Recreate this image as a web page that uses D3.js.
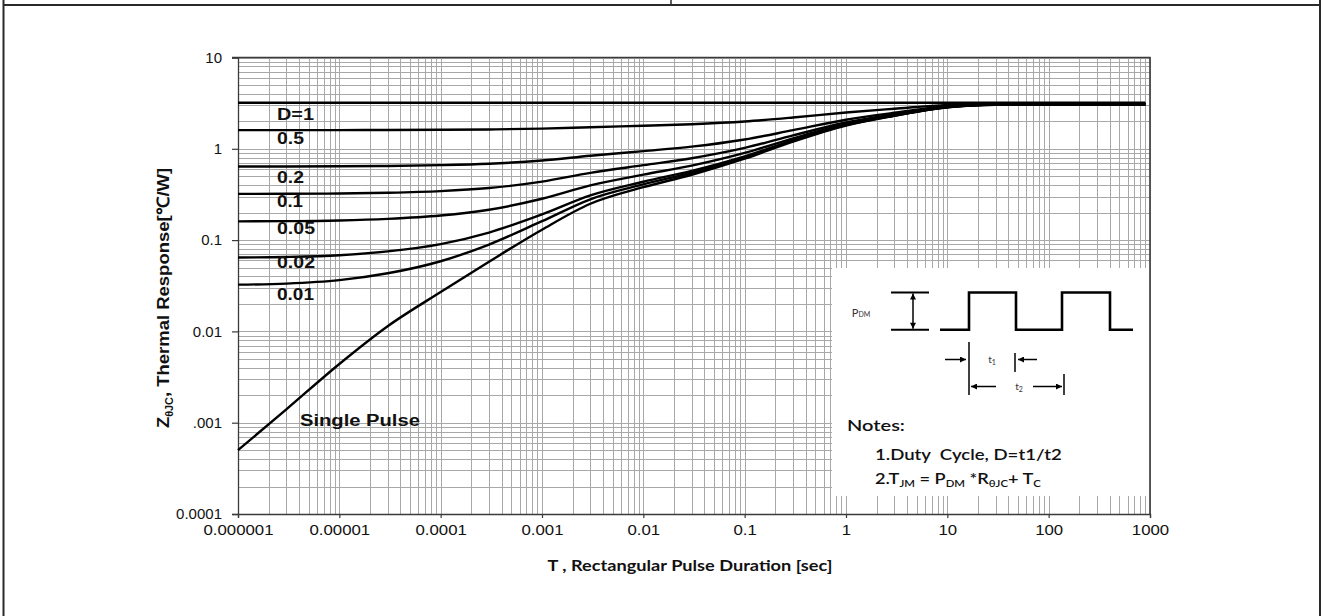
<!DOCTYPE html>
<html>
<head>
<meta charset="utf-8">
<script src="https://cdn.jsdelivr.net/npm/d3@7"></script>
<style>
  html, body { margin: 0; padding: 0; background: #fff; }
  svg { display: block; }
</style>
</head>
<body>
<svg id="chart" width="1323" height="616"></svg>
<script>
// Pulse durations (s) at which every curve is sampled
const pulseTimes = [1e-6, 3e-6, 1e-5, 3e-5, 1e-4, 3e-4, 1e-3, 3e-3, 1e-2, 3e-2, 0.1, 0.3, 1, 3, 10, 30, 100, 900];

// Transient thermal impedance Z(θJC) in ℃/W for each duty cycle
const zD100 = [3.2, 3.2, 3.2, 3.2, 3.2, 3.2, 3.2, 3.2, 3.2, 3.2, 3.2, 3.2, 3.2, 3.2, 3.2, 3.2, 3.2, 3.2];
const zD050 = [1.6, 1.6, 1.602, 1.606, 1.614, 1.629, 1.665, 1.725, 1.79, 1.86, 1.99, 2.2, 2.5, 2.75, 3.03, 3.12, 3.13, 3.13];
const zD020 = [0.64, 0.641, 0.6435, 0.649, 0.662, 0.686, 0.744, 0.84, 0.944, 1.056, 1.264, 1.6, 2.08, 2.48, 2.92, 3.07, 3.09, 3.09];
const zD010 = [0.3205, 0.3213, 0.324, 0.33, 0.344, 0.372, 0.437, 0.545, 0.662, 0.788, 1.022, 1.4, 1.94, 2.39, 2.885, 3.056, 3.07, 3.07];
const zD005 = [0.1605, 0.1613, 0.1642, 0.1708, 0.1857, 0.2151, 0.2835, 0.3975, 0.521, 0.654, 0.901, 1.3, 1.87, 2.345, 2.868, 3.048, 3.07, 3.07];
const zD002 = [0.0645, 0.0654, 0.0683, 0.0752, 0.0905, 0.121, 0.191, 0.309, 0.436, 0.574, 0.828, 1.24, 1.828, 2.318, 2.857, 3.043, 3.06, 3.06];
const zD001 = [0.0325, 0.0334, 0.0364, 0.0433, 0.0587, 0.0894, 0.161, 0.28, 0.408, 0.547, 0.804, 1.22, 1.814, 2.309, 2.854, 3.042, 3.06, 3.06];
const zSingle = [0.0005, 0.0014, 0.0044, 0.0114, 0.027, 0.058, 0.13, 0.25, 0.38, 0.52, 0.78, 1.2, 1.8, 2.3, 2.85, 3.04, 3.06, 3.06];

const dutyLabels = ["D=1", "0.5", "0.2", "0.1", "0.05", "0.02", "0.01"];
const singleLabel = "Single Pulse";

const xTickValues = [1e-6, 1e-5, 1e-4, 1e-3, 1e-2, 0.1, 1, 10, 100, 1000];
const xTickLabels = ["0.000001", "0.00001", "0.0001", "0.001", "0.01", "0.1", "1", "10", "100", "1000"];
const yTickValues = [10, 1, 0.1, 0.01, 0.001, 0.0001];
const yTickLabels = ["10", "1", "0.1", "0.01", ".001", "0.0001"];

// ---------------------------------------------------------------------------
const svg = d3.select("#chart");
const ARIAL = "'Liberation Sans', Arial, sans-serif";
const CALIBRI = "Lato, 'Open Sans', sans-serif";

const x = d3.scaleLog().domain([1e-6, 1000]).range([238, 1150]);
const y = d3.scaleLog().domain([1e-4, 10]).range([514, 57.5]);
const [X0, X1] = x.range();
const [Y1, Y0] = y.range();

// Outer sheet frame
const frame = svg.append("g").attr("stroke", "#2a2a2a").attr("fill", "none");
frame.append("line").attr("x1", 3.5).attr("x2", 3.5).attr("y1", 0).attr("y2", 616).attr("stroke-width", 2);
frame.append("line").attr("x1", 1320).attr("x2", 1320).attr("y1", 0).attr("y2", 616).attr("stroke-width", 2);
frame.append("line").attr("x1", 3).attr("x2", 1321).attr("y1", 5).attr("y2", 5).attr("stroke-width", 2);
frame.append("line").attr("x1", 671).attr("x2", 671).attr("y1", 0).attr("y2", 5).attr("stroke-width", 1.5);

// Log grid: every 1..9 step of each decade
const gridX = [];
for (let e = -6; e < 3; e++) for (let k = 1; k < 10; k++) gridX.push(k * Math.pow(10, e));
gridX.push(1000);
const gridY = [];
for (let e = -4; e < 1; e++) for (let k = 1; k < 10; k++) gridY.push(k * Math.pow(10, e));
gridY.push(10);

const grid = svg.append("g").attr("stroke", "#a8a8a8").attr("stroke-width", 1).attr("shape-rendering", "crispEdges");
grid.selectAll(".gx").data(gridX).join("line")
  .attr("x1", d => Math.round(x(d)) + 0.5).attr("x2", d => Math.round(x(d)) + 0.5)
  .attr("y1", Y0).attr("y2", Y1);
grid.selectAll(".gy").data(gridY).join("line")
  .attr("y1", d => Math.round(y(d)) + 0.5).attr("y2", d => Math.round(y(d)) + 0.5)
  .attr("x1", X0).attr("x2", X1);

// Notes panel background
const bx = 832, by = 268;
svg.append("rect").attr("x", bx).attr("y", by).attr("width", X1 - bx).attr("height", 228).attr("fill", "#fff");

// Axes
const yAxis = d3.axisLeft(y).tickValues(yTickValues).tickFormat((d, i) => yTickLabels[i]).tickSize(6).tickPadding(10);
const xAxis = d3.axisBottom(x).tickValues(xTickValues).tickFormat((d, i) => xTickLabels[i]).tickSize(4).tickPadding(6);

const gy = svg.append("g").attr("transform", `translate(${X0},0)`).call(yAxis);
const gx = svg.append("g").attr("transform", `translate(0,${Y1})`).call(xAxis);
[gx, gy].forEach(g => {
  g.select(".domain").attr("stroke", "#3a3a3a").attr("stroke-width", 1.3);
  g.selectAll(".tick line").attr("stroke", "#3a3a3a").attr("stroke-width", 1.2);
  g.selectAll(".tick text").attr("fill", "#111").style("font-family", ARIAL).style("font-size", "15px");
});
// tick labels on the time axis run slightly wide
gx.selectAll(".tick text").each(function () {
  const t = d3.select(this);
  t.attr("transform", `translate(0,${t.attr("y")}) scale(1.12,1) translate(0,${-t.attr("y")})`);
});

// Plot border (top and right)
svg.append("path")
  .attr("d", `M${X0 - 6},${Y0}H${X1}V${Y1}`)
  .attr("fill", "none").attr("stroke", "#3a3a3a").attr("stroke-width", 1.6);

// Curves
const series = [zD100, zD050, zD020, zD010, zD005, zD002, zD001, zSingle];
const line = d3.line().x(d => x(d[0])).y(d => y(d[1])).curve(d3.curveMonotoneX);
svg.append("g").selectAll("path").data(series).join("path")
  .attr("d", s => line(pulseTimes.map((t, i) => [t, s[i]])))
  .attr("fill", "none").attr("stroke", "#000").attr("stroke-width", 2.4)
  .attr("stroke-linejoin", "round").attr("stroke-linecap", "butt");

// Text helper: draws text, then stretches it horizontally to a target width
function fitText(parent, px, py, width, font, size, weight, anchor, build, rotate) {
  const t = parent.append("text")
    .attr("text-anchor", anchor)
    .style("font-family", font).style("font-size", size + "px").style("font-weight", weight)
    .attr("fill", "#111");
  build(t);
  const natural = t.node().getComputedTextLength();
  const k = width / natural;
  t.attr("transform", `translate(${px},${py})${rotate ? " rotate(-90)" : ""} scale(${k},1)`);
  return t;
}

// Duty-cycle labels
const dutyBaselines = [120, 144, 182.7, 206.7, 234, 268, 300];
const dutyWidths = [37, 27, 27, 26, 38, 38, 37];
dutyLabels.forEach((lab, i) => {
  fitText(svg, 277, dutyBaselines[i], dutyWidths[i], ARIAL, 17, "bold", "start", t => t.text(lab));
});
fitText(svg, 300, 425.5, 120, ARIAL, 17, "bold", "start", t => t.text(singleLabel));

// Axis titles
fitText(svg, 690, 571, 285, CALIBRI, 15, "bold", "middle",
  t => t.text("T , Rectangular Pulse Duration [sec]"));

fitText(svg, 169, 298, 260, ARIAL, 17, "bold", "middle", t => {
  t.append("tspan").text("Z");
  t.append("tspan").attr("dy", 4).style("font-size", "10px").text("θJC");
  t.append("tspan").attr("dy", -4).text(", Thermal Response[℃/W]");
}, true);

// Notes panel: pulse train diagram
const dia = svg.append("g").attr("transform", `translate(${bx},${by})`);
const defs = svg.append("defs");
defs.append("marker").attr("id", "ah").attr("viewBox", "0 0 10 10").attr("refX", 10).attr("refY", 5)
  .attr("markerWidth", 7).attr("markerHeight", 6).attr("markerUnits", "userSpaceOnUse").attr("orient", "auto-start-reverse")
  .append("path").attr("d", "M0,0L10,5L0,10Z").attr("fill", "#000");

const hi = 24.5, lo = 61.7;
dia.append("path").attr("d", `M59,${hi}H97M59,${lo}H97`).attr("stroke", "#000").attr("stroke-width", 2).attr("fill", "none");
dia.append("line").attr("x1", 81).attr("x2", 81).attr("y1", hi + 1).attr("y2", lo - 1)
  .attr("stroke", "#000").attr("stroke-width", 1.5)
  .attr("marker-start", "url(#ah)").attr("marker-end", "url(#ah)");
dia.append("path")
  .attr("d", `M108,${lo}H137V${hi}H184V${lo}H230V${hi}H278V${lo}H301`)
  .attr("fill", "none").attr("stroke", "#000").attr("stroke-width", 2.6).attr("stroke-linejoin", "miter");

const thin = dia.append("g").attr("stroke", "#000").attr("stroke-width", 1.5).attr("fill", "none");
thin.append("line").attr("x1", 137).attr("x2", 137).attr("y1", 74).attr("y2", 127);
thin.append("line").attr("x1", 183).attr("x2", 183).attr("y1", 85).attr("y2", 104);
thin.append("line").attr("x1", 232).attr("x2", 232).attr("y1", 106).attr("y2", 127);
thin.append("line").attr("x1", 113).attr("x2", 134).attr("y1", 91.5).attr("y2", 91.5).attr("marker-end", "url(#ah)");
thin.append("line").attr("x1", 205).attr("x2", 186).attr("y1", 91.5).attr("y2", 91.5).attr("marker-end", "url(#ah)");
thin.append("line").attr("x1", 164).attr("x2", 139).attr("y1", 118.5).attr("y2", 118.5).attr("marker-end", "url(#ah)");
thin.append("line").attr("x1", 201).attr("x2", 230).attr("y1", 118.5).attr("y2", 118.5).attr("marker-end", "url(#ah)");

function smallLabel(px, py, main, sub, mainSize, subSize, subDy) {
  const t = dia.append("text").attr("x", px).attr("y", py).attr("text-anchor", "middle")
    .style("font-family", CALIBRI).style("font-size", mainSize + "px").attr("fill", "#333");
  t.append("tspan").text(main);
  t.append("tspan").attr("dy", subDy).style("font-size", subSize + "px").text(sub);
}
smallLabel(29, 49, "P", "DM", 11, 7, 0);
smallLabel(160, 95, "t", "1", 10, 7, 2);
smallLabel(187, 122, "t", "2", 10, 7, 2);

// Notes text
fitText(svg, 847, 431, 58, CALIBRI, 16, 600, "start", t => t.text("Notes:"));
fitText(svg, 875, 460, 187, CALIBRI, 16, 600, "start", t => t.text("1.Duty  Cycle, D=t1/t2").style("white-space", "pre"));
fitText(svg, 875, 484, 166, CALIBRI, 16, 600, "start", t => {
  const sub = (s) => { t.append("tspan").attr("dy", 3).style("font-size", "10px").text(s); };
  const main = (s) => { t.append("tspan").attr("dy", -3).text(s); };
  t.append("tspan").text("2.T");
  sub("JM"); main(" = P"); sub("DM"); main(" *R"); sub("θJC"); main("+ T"); sub("C");
});
</script>
</body>
</html>
